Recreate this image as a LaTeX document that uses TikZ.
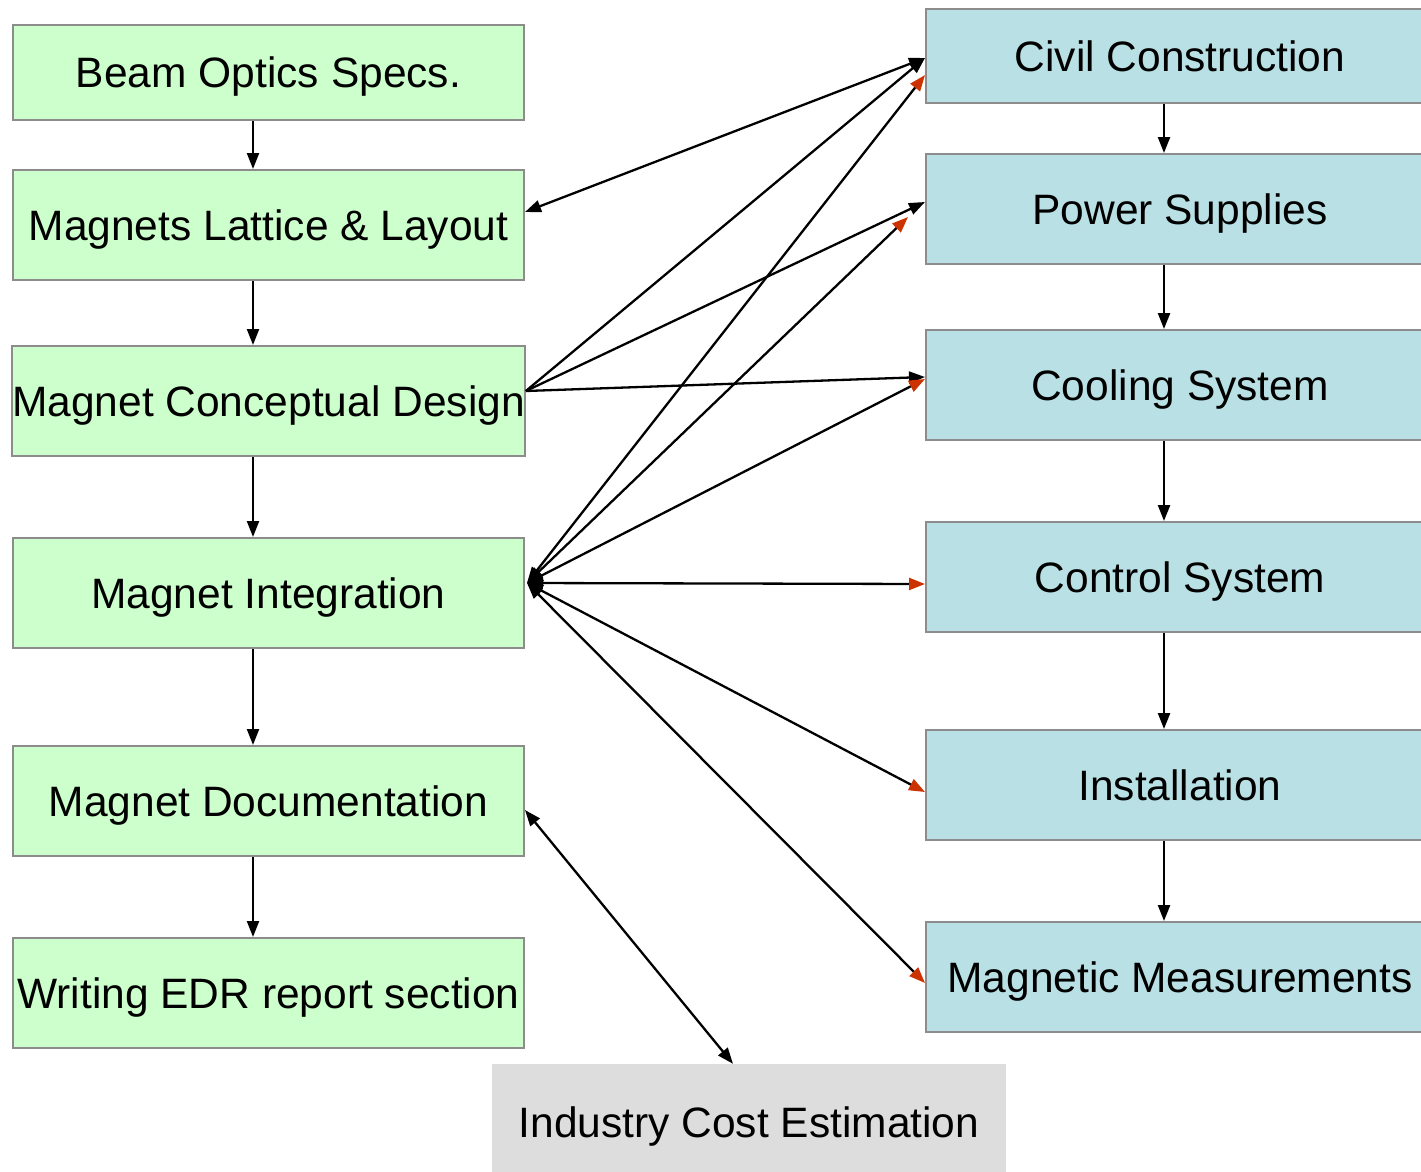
\documentclass[tikz,border=0pt]{standalone}
\usepackage{fontspec}
\setmainfont{Liberation Sans}
\usetikzlibrary{arrows.meta}
\definecolor{leftfill}{RGB}{204,255,204}
\definecolor{rightfill}{RGB}{185,224,228}
\definecolor{costfill}{RGB}{221,221,221}
\definecolor{boxline}{RGB}{140,140,140}
\definecolor{tipred}{RGB}{204,51,0}
\tikzset{
  taskbox/.style={rectangle, draw=boxline, line width=2pt, inner sep=0pt,
    font=\fontsize{42.5}{48}\selectfont, text=black, text height=31pt, text depth=0pt},
  leftbox/.style={taskbox, fill=leftfill, minimum width=511pt, minimum height=110pt},
  rightbox/.style={taskbox, fill=rightfill, minimum width=508pt, minimum height=110pt},
  costbox/.style={rectangle, fill=costfill, inner sep=0pt, minimum width=514pt,
    minimum height=116pt, font=\fontsize{42.5}{48}\selectfont, text height=31pt, text depth=0pt},
  link/.style={line width=2.3pt, black},
  flow/.style={link, -{Triangle[length=16pt, width=12pt]}},
  both/.style={link, {Triangle[length=16pt, width=12pt]}-{Triangle[length=16pt, width=12pt]}},
  redboth/.style={link, {Triangle[length=16pt, width=12pt]}-{Triangle[length=16pt, width=12pt, color=tipred]}}
}
\begin{document}
\begin{tikzpicture}[x=1pt, y=-1pt]
\useasboundingbox (0,0) rectangle (1421,1172);

% left column: magnet work packages
\node[leftbox, minimum height=95pt] (beam) at (268.5,72.5) {Beam Optics Specs.};
\node[leftbox] (lattice) at (268.5,225) {Magnets Lattice \& Layout};
\node[leftbox] (concept) at (268.5,401) {Magnet Conceptual Design};
\node[leftbox] (integ) at (268.5,593) {Magnet Integration};
\node[leftbox] (doc) at (268.5,801) {Magnet Documentation};
\node[leftbox] (edr) at (268.5,993) {Writing EDR report section};

% right column: interfacing systems
\node[rightbox, minimum height=94pt] (civil) at (1180,56) {Civil Construction};
\node[rightbox] (power) at (1180,209) {Power Supplies};
\node[rightbox] (cool) at (1180,385) {Cooling System};
\node[rightbox] (ctrl) at (1180,577) {Control System};
\node[rightbox] (inst) at (1180,785) {Installation};
\node[rightbox] (meas) at (1180,977) {Magnetic Measurements};

% cost estimate
\node[costbox] (cost) at (749,1122) {Industry Cost Estimation};

% vertical sequence arrows
\draw[flow] (beam.south -| 253,0) -- (lattice.north -| 253,0);
\draw[flow] (lattice.south -| 253,0) -- (concept.north -| 253,0);
\draw[flow] (concept.south -| 253,0) -- (integ.north -| 253,0);
\draw[flow] (integ.south -| 253,0) -- (doc.north -| 253,0);
\draw[flow] (doc.south -| 253,0) -- (edr.north -| 253,0);

\draw[flow] (civil.south -| 1164,0) -- (power.north -| 1164,0);
\draw[flow] (power.south -| 1164,0) -- (cool.north -| 1164,0);
\draw[flow] (cool.south -| 1164,0) -- (ctrl.north -| 1164,0);
\draw[flow] (ctrl.south -| 1164,0) -- (inst.north -| 1164,0);
\draw[flow] (inst.south -| 1164,0) -- (meas.north -| 1164,0);

% anchor points on box sides
\coordinate (latE) at ([yshift=13pt]lattice.east);
\coordinate (conE) at ([yshift=10pt]concept.east);
\coordinate (intE) at ([xshift=2pt,yshift=10pt]integ.east);
\coordinate (docE) at ([yshift=-9pt]doc.east);
\coordinate (costN) at ([xshift=-16pt]cost.north);

% lattice and documentation links
\draw[both] (latE) -- ([yshift=-2pt]civil.west);
\draw[both] (docE) -- (costN);

% conceptual design links
\draw[flow] (conE) -- ([yshift=-2pt]civil.west);
\draw[flow] (conE) -- ([yshift=7pt]power.west);
\draw[flow] (conE) -- ([yshift=8pt]cool.west);

% integration links
\draw[redboth] (intE) -- ([yshift=-19pt]civil.west);
\draw[redboth] (intE) -- ([xshift=-17pt,yshift=-8pt]power.west);
\draw[redboth] (intE) -- ([yshift=6pt]cool.west);
\draw[redboth] (intE) -- ([yshift=-7pt]ctrl.west);
\draw[redboth] (intE) -- ([yshift=-7pt]inst.west);
\draw[redboth] (intE) -- ([yshift=-6pt]meas.west);
\end{tikzpicture}
\end{document}
